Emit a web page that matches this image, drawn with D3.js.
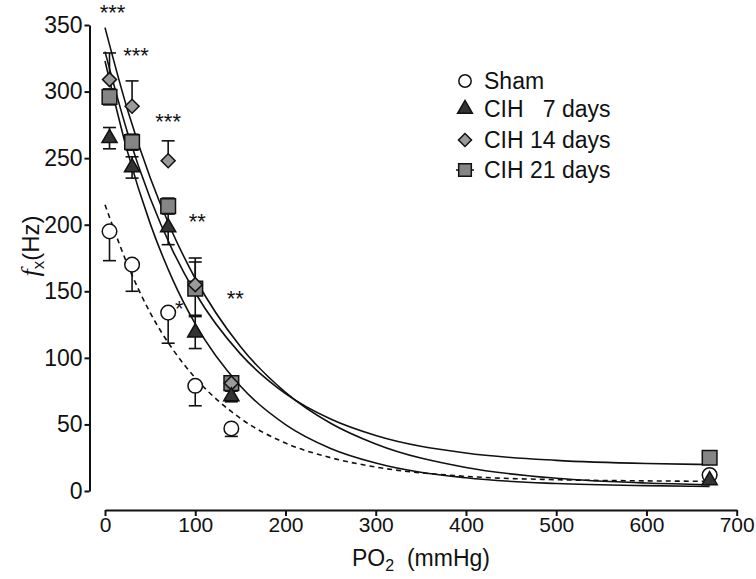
<!DOCTYPE html>
<html>
<head>
<meta charset="utf-8">
<script src="https://cdn.jsdelivr.net/npm/d3@7"></script>
<style>
  html, body { margin: 0; padding: 0; background: #fff; }
  svg { display: block; font-family: "Liberation Sans", Arial, sans-serif; }
</style>
</head>
<body>
<svg id="chart" width="756" height="579"></svg>
<script>
// ---------- data ----------
const po2 = [5, 30, 70, 100, 140, 670];

const shamVals = [195, 170, 134, 79, 47, 12];
const shamErr  = [22, 20, 23, 15, 6, 2];

const cih7Vals = [265, 243, 198, 119, 71, 8];
const cih7Err  = [8, 8, 13, 12, 4, 2];

const cih14Vals = [309, 289, 248, 155, 81, 12];
const cih14Err  = [20, 19, 15, 20, 3, 2];

const cih21Vals = [296, 262, 214, 152, 81, 25];
const cih21Err  = [6, 6, 6, 20, 3, 2];

// fitted curves
const curveX    = [0, 25, 50, 75, 100, 150, 200, 250, 300, 400, 500, 600, 670];
const fitSham   = [215, 170, 134, 106.5, 85, 54.6, 36, 25, 18, 11, 8.5, 7.6, 7.3];
const fit7      = [323, 254.7, 201, 158.8, 125.5, 78.8, 49.9, 32, 21, 9.9, 5.6, 4, 3.5];
const fit14     = [348, 286.2, 235.4, 193.8, 159.6, 108.5, 74.1, 50.9, 35.3, 17.6, 9.6, 6, 4.7];
const fit21     = [330, 269.1, 220, 180.6, 148.9, 103, 73.2, 54.1, 41.7, 28.5, 23, 20.6, 19.9];

const yTicks = [0, 50, 100, 150, 200, 250, 300, 350];
const xTicks = [0, 100, 200, 300, 400, 500, 600, 700];

const starX    = [5, 30, 70, 100, 140, 70];
const starText = ["***", "***", "***", "**", "**", "*"];
const starVals = [362, 330, 280, 205, 147, 140];
const starDx   = [3, 4, 0, 2, 4, 11];

const legendLabels = ["Sham", "CIH   7 days", "CIH 14 days", "CIH 21 days"];

// ---------- scales ----------
const svg = d3.select("#chart");
const x = d3.scaleLinear().domain([0, 700]).range([105, 736.7]);
const y = d3.scaleLinear().domain([0, 350]).range([491, 25]);
const ink = "#111";

// ---------- axes ----------
const yAxis = svg.append("g")
  .attr("transform", "translate(89.5,0)")
  .call(d3.axisLeft(y).tickValues(yTicks).tickSize(5).tickSizeOuter(0).tickPadding(2));
const xAxis = svg.append("g")
  .attr("transform", "translate(0,510)")
  .call(d3.axisBottom(x).tickValues(xTicks).tickSize(6).tickSizeOuter(0).tickPadding(1));
[yAxis, xAxis].forEach(g => {
  g.select(".domain").attr("stroke", ink).attr("stroke-width", 2);
  g.selectAll(".tick line").attr("stroke", ink).attr("stroke-width", 2);
  g.selectAll(".tick text").attr("fill", ink)
    .attr("font-family", "'Liberation Sans', Arial, sans-serif");
});
yAxis.selectAll(".tick text").attr("font-size", 23);
xAxis.selectAll(".tick text").attr("font-size", 21);

// axis titles
const yt = svg.append("text")
  .attr("transform", "translate(39,246) rotate(-90)")
  .attr("text-anchor", "middle").attr("font-size", 24).attr("fill", ink);
yt.append("tspan").attr("font-style", "italic").attr("font-family", "'Liberation Serif', serif").attr("font-size", 26).text("f");
yt.append("tspan").attr("font-size", 17).attr("dy", 5).text("x");
yt.append("tspan").attr("dy", -5).text("(Hz)");

const xt = svg.append("text")
  .attr("x", 421).attr("y", 566)
  .attr("text-anchor", "middle").attr("font-size", 23).attr("fill", ink)
  .attr("xml:space", "preserve").style("white-space", "pre");
xt.append("tspan").text("PO");
xt.append("tspan").attr("font-size", 16).attr("dy", 5).text("2");
xt.append("tspan").attr("dy", -5).text("  (mmHg)");

// ---------- curves ----------
const line = d3.line().x(d => x(d[0])).y(d => y(d[1])).curve(d3.curveMonotoneX);
function drawCurve(vals, dashed) {
  svg.append("path")
    .datum(curveX.map((cx, i) => [cx, vals[i]]))
    .attr("d", line)
    .attr("fill", "none").attr("stroke", ink).attr("stroke-width", 1.6)
    .attr("stroke-dasharray", dashed ? "5,4" : null);
}
drawCurve(fitSham, true);
drawCurve(fit7, false);
drawCurve(fit14, false);
drawCurve(fit21, false);

// ---------- error bars ----------
function drawErr(vals, errs, dir) {
  const g = svg.append("g").attr("stroke", ink).attr("stroke-width", 1.6);
  po2.forEach((px, i) => {
    const cx = x(px);
    const ends = [];
    if (dir === "up" || dir === "both") ends.push(vals[i] + errs[i]);
    if (dir === "down" || dir === "both") ends.push(vals[i] - errs[i]);
    ends.forEach(e => {
      g.append("line").attr("x1", cx).attr("x2", cx).attr("y1", y(vals[i])).attr("y2", y(e));
      g.append("line").attr("x1", cx - 6.5).attr("x2", cx + 6.5).attr("y1", y(e)).attr("y2", y(e));
    });
  });
}
drawErr(shamVals, shamErr, "down");
drawErr(cih7Vals, cih7Err, "both");
drawErr(cih21Vals, cih21Err, "both");
drawErr(cih14Vals, cih14Err, "up");

// ---------- markers ----------
const styles = [
  {type: d3.symbolCircle,   size: 167, fill: "#fff",    rot: 0},
  {type: d3.symbolTriangle, size: 100, fill: "#333",    rot: 0},
  {type: d3.symbolSquare,   size: 98,  fill: "#9a9a9a", rot: 45},
  {type: d3.symbolSquare,   size: 215, fill: "#858585", rot: 0}
];
function drawMarkers(vals, st) {
  svg.append("g").selectAll("path").data(po2).join("path")
    .attr("d", d3.symbol().type(st.type).size(st.size))
    .attr("transform", (d, i) => `translate(${x(d)},${y(vals[i])}) rotate(${st.rot})`)
    .attr("fill", st.fill).attr("stroke", ink).attr("stroke-width", 1.5);
}
drawMarkers(cih21Vals, styles[3]);
drawMarkers(cih14Vals, styles[2]);
drawMarkers(shamVals, styles[0]);
drawMarkers(cih7Vals, styles[1]);

// ---------- significance stars ----------
starX.forEach((sx, i) => {
  svg.append("text")
    .attr("x", x(sx) + starDx[i])
    .attr("y", y(starVals[i]) + 11)
    .attr("text-anchor", "middle").attr("font-size", 22).attr("fill", ink)
    .text(starText[i]);
});

// ---------- legend ----------
const legendY = [81, 109, 140, 170];
const legendStyles = [
  {type: d3.symbolCircle,   size: 120, fill: "#fff",    rot: 0},
  {type: d3.symbolTriangle, size: 95,  fill: "#333",    rot: 0},
  {type: d3.symbolSquare,   size: 85,  fill: "#9a9a9a", rot: 45},
  {type: d3.symbolSquare,   size: 160, fill: "#858585", rot: 0}
];
legendLabels.forEach((lab, i) => {
  const g = svg.append("g");
  if (i === 3) {
    g.append("line").attr("x1", 456).attr("x2", 474).attr("y1", legendY[i]).attr("y2", legendY[i])
      .attr("stroke", ink).attr("stroke-width", 1.5);
  }
  g.append("path")
    .attr("d", d3.symbol().type(legendStyles[i].type).size(legendStyles[i].size))
    .attr("transform", `translate(465,${legendY[i]}) rotate(${legendStyles[i].rot})`)
    .attr("fill", legendStyles[i].fill).attr("stroke", ink).attr("stroke-width", 1.5);
  g.append("text")
    .attr("x", 484).attr("y", legendY[i] + 8)
    .attr("font-size", 23).attr("fill", ink)
    .attr("xml:space", "preserve").style("white-space", "pre")
    .text(lab);
});
</script>
</body>
</html>
